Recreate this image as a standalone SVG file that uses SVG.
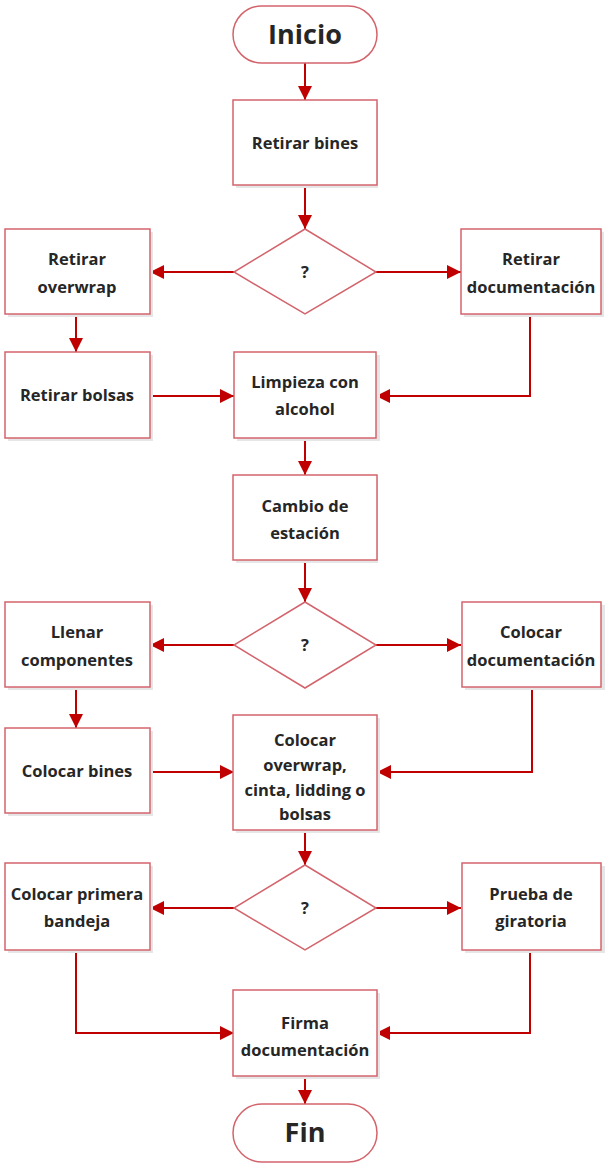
<svg xmlns="http://www.w3.org/2000/svg" width="605" height="1167" viewBox="0 0 605 1167">
<style>
.box{fill:#ffffff;stroke:#d3646c;stroke-width:1.5}
.sh{fill:#e6e6e6}
.t{font-family:"Open Sans","Liberation Sans",sans-serif;font-weight:700;font-size:16.5px;fill:#262626;text-anchor:middle}
.big{font-size:27px}
.c{fill:none;stroke:#c00000;stroke-width:2}
</style>
<defs>
<marker id="ah" viewBox="0 0 10 10" refX="10" refY="5" markerWidth="7" markerHeight="7" orient="auto" markerUnits="strokeWidth">
<path d="M0,0 L10,5 L0,10 z" fill="#c00000"/>
</marker>
</defs>
<rect width="605" height="1167" fill="#ffffff"/>
<g id="connectors">
<path class="c" marker-end="url(#ah)" d="M305,63 V100"/>
<path class="c" marker-end="url(#ah)" d="M305,185 V229"/>
<path class="c" marker-end="url(#ah)" d="M234,272 H150"/>
<path class="c" marker-end="url(#ah)" d="M376,272 H461"/>
<path class="c" marker-end="url(#ah)" d="M76,314 V352"/>
<path class="c" marker-end="url(#ah)" d="M150,396 H234"/>
<path class="c" marker-end="url(#ah)" d="M530,314 V396 H376"/>
<path class="c" marker-end="url(#ah)" d="M305,438 V475"/>
<path class="c" marker-end="url(#ah)" d="M305,560 V602"/>
<path class="c" marker-end="url(#ah)" d="M234,645 H150"/>
<path class="c" marker-end="url(#ah)" d="M376,645 H461"/>
<path class="c" marker-end="url(#ah)" d="M76,687 V728"/>
<path class="c" marker-end="url(#ah)" d="M150,772 H234"/>
<path class="c" marker-end="url(#ah)" d="M532,687 V772 H377"/>
<path class="c" marker-end="url(#ah)" d="M305,830 V865"/>
<path class="c" marker-end="url(#ah)" d="M234,908 H150"/>
<path class="c" marker-end="url(#ah)" d="M376,908 H461"/>
<path class="c" marker-end="url(#ah)" d="M76,950 V1033 H234"/>
<path class="c" marker-end="url(#ah)" d="M530,950 V1033 H376"/>
<path class="c" marker-end="url(#ah)" d="M305,1076 V1104"/>
</g>
<g id="inicio">
<rect class="box" x="233" y="6" width="144" height="57" rx="28.5"/>
<text class="t big" x="305" y="44">Inicio</text>
</g>
<g id="retirar-bines">
<rect class="sh" x="236" y="103" width="142" height="85"/>
<rect class="box" x="233" y="100" width="144" height="85"/>
<text class="t" x="305" y="149">Retirar bines</text>
</g>
<g id="decision1">
<polygon class="box" points="305,229 376,272 305,314 234,272"/>
<text class="t" x="305" y="278">?</text>
</g>
<g id="retirar-overwrap">
<rect class="sh" x="8" y="232" width="145" height="85"/>
<rect class="box" x="5" y="229" width="145" height="85"/>
<text class="t" x="77" y="265">Retirar</text>
<text class="t" x="77" y="293">overwrap</text>
</g>
<g id="retirar-documentacion">
<rect class="sh" x="464" y="232" width="140" height="85"/>
<rect class="box" x="461" y="229" width="140" height="85"/>
<text class="t" x="531" y="265">Retirar</text>
<text class="t" x="531" y="293">documentación</text>
</g>
<g id="retirar-bolsas">
<rect class="sh" x="8" y="355" width="145" height="86"/>
<rect class="box" x="5" y="352" width="145" height="86"/>
<text class="t" x="77" y="401">Retirar bolsas</text>
</g>
<g id="limpieza">
<rect class="sh" x="237" y="355" width="143" height="86"/>
<rect class="box" x="234" y="352" width="142" height="86"/>
<text class="t" x="305" y="388">Limpieza con</text>
<text class="t" x="305" y="415">alcohol</text>
</g>
<g id="cambio">
<rect class="sh" x="236" y="478" width="142" height="85"/>
<rect class="box" x="233" y="475" width="144" height="85"/>
<text class="t" x="305" y="512">Cambio de</text>
<text class="t" x="305" y="539">estación</text>
</g>
<g id="decision2">
<polygon class="box" points="305,602 376,645 305,688 234,645"/>
<text class="t" x="305" y="651">?</text>
</g>
<g id="llenar">
<rect class="sh" x="8" y="605" width="145" height="85"/>
<rect class="box" x="5" y="602" width="145" height="85"/>
<text class="t" x="77" y="638">Llenar</text>
<text class="t" x="77" y="666">componentes</text>
</g>
<g id="colocar-documentacion">
<rect class="sh" x="465" y="605" width="140" height="85"/>
<rect class="box" x="462" y="602" width="139" height="85"/>
<text class="t" x="531" y="638">Colocar</text>
<text class="t" x="531" y="666">documentación</text>
</g>
<g id="colocar-bines">
<rect class="sh" x="8" y="731" width="145" height="85"/>
<rect class="box" x="5" y="728" width="145" height="85"/>
<text class="t" x="77" y="777">Colocar bines</text>
</g>
<g id="colocar-overwrap">
<rect class="sh" x="236" y="718" width="144" height="115"/>
<rect class="box" x="233" y="715" width="144" height="115"/>
<text class="t" x="305" y="746">Colocar</text>
<text class="t" x="305" y="771">overwrap,</text>
<text class="t" x="305" y="796">cinta, lidding o</text>
<text class="t" x="305" y="820">bolsas</text>
</g>
<g id="decision3">
<polygon class="box" points="305,865 376,908 305,950 234,908"/>
<text class="t" x="305" y="914">?</text>
</g>
<g id="colocar-bandeja">
<rect class="sh" x="8" y="866" width="145" height="87"/>
<rect class="box" x="5" y="863" width="145" height="87"/>
<text class="t" x="77" y="900">Colocar primera</text>
<text class="t" x="77" y="927">bandeja</text>
</g>
<g id="prueba-giratoria">
<rect class="sh" x="465" y="866" width="140" height="87"/>
<rect class="box" x="462" y="863" width="139" height="87"/>
<text class="t" x="531" y="900">Prueba de</text>
<text class="t" x="531" y="927">giratoria</text>
</g>
<g id="firma">
<rect class="sh" x="236" y="993" width="144" height="86"/>
<rect class="box" x="233" y="990" width="144" height="86"/>
<text class="t" x="305" y="1029">Firma</text>
<text class="t" x="305" y="1056">documentación</text>
</g>
<g id="fin">
<rect class="box" x="233" y="1104" width="144" height="58" rx="29"/>
<text class="t big" x="305" y="1142">Fin</text>
</g>
</svg>
